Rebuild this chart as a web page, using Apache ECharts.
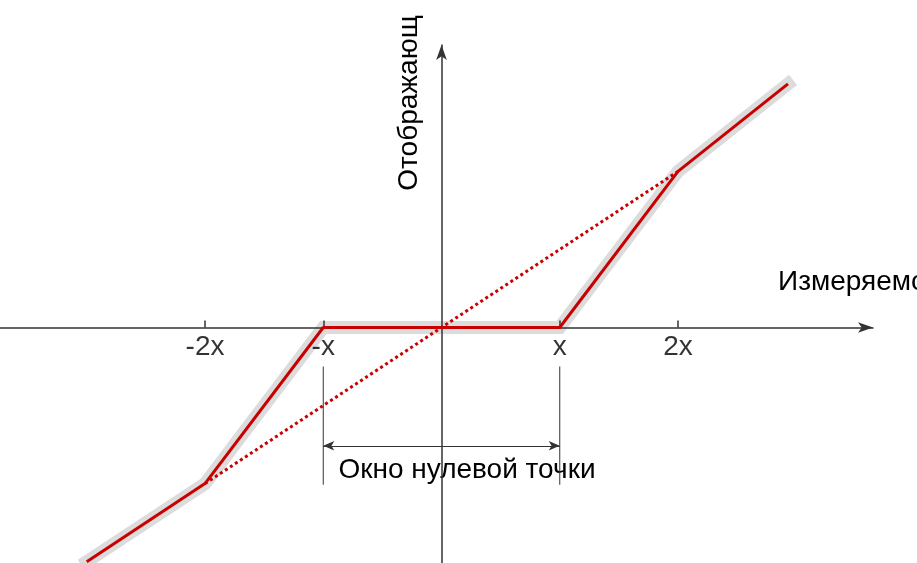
<!DOCTYPE html>
<html>
<head>
<meta charset="utf-8">
<script src="https://cdn.jsdelivr.net/npm/echarts@6/dist/echarts.min.js"></script>
<style>
  html, body { margin: 0; padding: 0; background: #fff; }
  #chart { width: 917px; height: 563px; }
</style>
</head>
<body>
<div id="chart"></div>
<script>
// transfer curve with a dead zone (values in units of x)
const curveX = [-3, -2, -1, 1, 2, 2.93];
const curveY = [-1.98, -1.32, 0, 0, 1.32, 2.06];
// straight (no dead zone) reference line
const refX = [-2, 2];
const refY = [-1.32, 1.32];
// window bracket
const windowX = [-1, 1];
const windowTop = -0.33;
const windowBottom = -1.33;
const windowArrowY = -1.0;
// tick labels
const tickValues = [-2, -1, 1, 2];
const tickLabels = ["-2x", "-x", "x", "2x"];

const axisColor = "#333";
const font = "'Liberation Sans', Arial, sans-serif";
const fontSize = 28;

const curve = curveX.map((x, i) => [x, curveY[i]]);
const ref = refX.map((x, i) => [x, refY[i]]);

let myChart = echarts.init(document.getElementById("chart"));
myChart.setOption({
  animation: false,
  grid: { left: 0, right: 44, top: 45, bottom: 0, containLabel: false, outerBoundsMode: "none" },
  xAxis: {
    type: "value",
    z: 2,
    min: -3.7336,
    max: 3.649,
    splitLine: { show: false },
    axisLine: {
      onZero: true,
      symbol: ["none", "arrow"],
      symbolSize: [8, 15],
      lineStyle: { color: axisColor, width: 1.5 },
    },
    axisTick: {
      show: true,
      inside: true,
      length: 7,
      customValues: tickValues,
      lineStyle: { color: axisColor, width: 1.5 },
    },
    axisLabel: { show: false },
  },
  yAxis: {
    type: "value",
    z: 2,
    min: -1.9915,
    max: 2.389,
    splitLine: { show: false },
    axisLine: {
      onZero: true,
      symbol: ["none", "arrow"],
      symbolSize: [8, 15],
      lineStyle: { color: axisColor, width: 1.5 },
    },
    axisTick: { show: false },
    axisLabel: { show: false },
  },
  graphic: [
    {
      type: "text",
      x: 409,
      y: 103,
      rotation: Math.PI / 2,
      style: {
        text: "Отображающ",
        font: fontSize + "px " + font,
        fill: "#000",
        align: "center",
        verticalAlign: "middle",
      },
    },
    {
      type: "text",
      x: 778,
      y: 282,
      style: {
        text: "Измеряемо",
        font: fontSize + "px " + font,
        fill: "#000",
        align: "left",
        verticalAlign: "middle",
      },
    },
    {
      type: "text",
      x: 467,
      y: 470,
      style: {
        text: "Окно нулевой точки",
        font: fontSize + "px " + font,
        fill: "#000",
        align: "center",
        verticalAlign: "middle",
      },
    },
  ],
  series: [
    {
      name: "band",
      type: "line",
      data: curve,
      symbol: "none",
      silent: true,
      lineStyle: { color: "#dcdcdc", width: 13, cap: "square", join: "miter" },
      z: 1,
    },
    {
      name: "curve",
      type: "line",
      data: curve,
      symbol: "none",
      silent: true,
      lineStyle: { color: "#c80000", width: 3 },
      z: 3,
    },
    {
      name: "linear",
      type: "line",
      data: ref,
      symbol: "none",
      silent: true,
      lineStyle: { color: "#c80000", width: 3, type: [3, 3] },
      z: 3,
    },
    {
      name: "tick-labels",
      type: "scatter",
      data: tickValues.map((v) => [v, 0]),
      symbolSize: 0,
      silent: true,
      z: 4,
      label: {
        show: true,
        position: "bottom",
        distance: 6,
        fontSize: fontSize,
        fontFamily: font,
        color: "#000",
        formatter: (p) => tickLabels[p.dataIndex],
      },
    },
    {
      name: "window-left",
      type: "line",
      data: [[windowX[0], windowTop], [windowX[0], windowBottom]],
      symbol: "none",
      silent: true,
      lineStyle: { color: axisColor, width: 1 },
      z: 2,
    },
    {
      name: "window-right",
      type: "line",
      data: [[windowX[1], windowTop], [windowX[1], windowBottom]],
      symbol: "none",
      silent: true,
      lineStyle: { color: axisColor, width: 1 },
      z: 2,
      markLine: {
        silent: true,
        symbol: ["arrow", "arrow"],
        symbolSize: [7, 11],
        label: { show: false },
        lineStyle: { color: axisColor, width: 1, type: "solid" },
        data: [[
          { coord: [windowX[0], windowArrowY] },
          { coord: [windowX[1], windowArrowY] },
        ]],
      },
    },
  ],
});
</script>
</body>
</html>
